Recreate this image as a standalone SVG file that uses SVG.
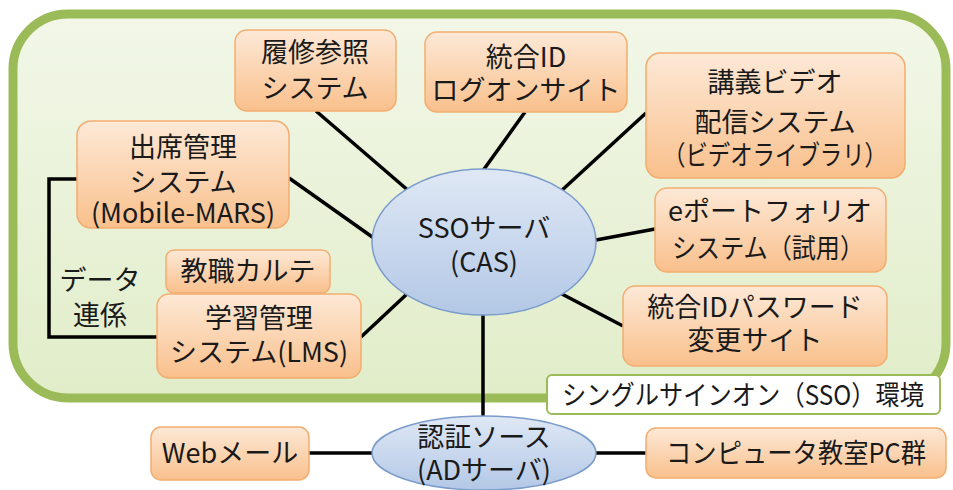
<svg xmlns="http://www.w3.org/2000/svg" width="953" height="490" viewBox="0 0 953 490">
<defs>
<linearGradient id="gBg" x1="0" y1="0" x2="0" y2="1"><stop offset="0" stop-color="#f2f7e8"/><stop offset="1" stop-color="#e1edc9"/></linearGradient>
<linearGradient id="gNode" x1="0" y1="0" x2="0" y2="1"><stop offset="0" stop-color="#fde9d7"/><stop offset="1" stop-color="#f9c08c"/></linearGradient>
<linearGradient id="gEll" x1="0" y1="0" x2="0" y2="1"><stop offset="0" stop-color="#dfe8f5"/><stop offset="1" stop-color="#b3c8e6"/></linearGradient>
</defs>
<style>
.node{fill:url(#gNode);stroke:#f2ad70;stroke-width:1.5}
.ell{fill:url(#gEll);stroke:#7b9ccb;stroke-width:1.5}
.c{stroke:#000;stroke-width:3.5;fill:none}
text{font-family:"Noto Sans CJK JP","Noto Sans",sans-serif;font-size:27px;fill:#1a1a1a;text-anchor:middle}
</style>
<rect x="13" y="14" width="933" height="384" rx="55" fill="url(#gBg)" stroke="#9bbb59" stroke-width="9"/>
<g id="connectors">
<line class="c" x1="316" y1="111" x2="410" y2="192"/>
<line class="c" x1="525" y1="112" x2="482" y2="172"/>
<line class="c" x1="646" y1="113" x2="560" y2="192"/>
<line class="c" x1="655" y1="229" x2="596" y2="240"/>
<line class="c" x1="560" y1="293" x2="623" y2="326"/>
<line class="c" x1="289" y1="178" x2="385" y2="246"/>
<line class="c" x1="361" y1="337" x2="408" y2="293"/>
<line class="c" x1="483" y1="312" x2="483" y2="418"/>
<line class="c" x1="309" y1="453" x2="374" y2="453"/>
<line class="c" x1="594" y1="453" x2="646" y2="453"/>
<polyline class="c" points="77,179 49,179 49,337 157,337"/>
</g>
<g id="sso-label"><rect x="547" y="375" width="393" height="39" rx="5" fill="#fff" stroke="#9bbb59" stroke-width="2"/><text x="743" y="405" font-size="25" textLength="362" lengthAdjust="spacingAndGlyphs">シングルサインオン（SSO）環境</text></g>
<g id="rishu"><rect class="node" x="235" y="30" width="161" height="81" rx="12"/><text x="315" y="62">履修参照<tspan x="315" y="98">システム</tspan></text></g>
<g id="logon"><rect class="node" x="425" y="32" width="202" height="80" rx="12"/><text x="526" y="67">統合ID<tspan x="526" y="100">ログオンサイト</tspan></text></g>
<g id="video"><rect class="node" x="646" y="53" width="259" height="125" rx="14"/><text x="775" y="92">講義ビデオ<tspan x="775" y="132">配信システム</tspan><tspan x="775" y="165" textLength="224" lengthAdjust="spacingAndGlyphs">（ビデオライブラリ）</tspan></text></g>
<g id="eport"><rect class="node" x="655" y="188" width="231" height="84" rx="12"/><text x="770" y="221">eポートフォリオ<tspan x="768" y="258" textLength="192" lengthAdjust="spacingAndGlyphs">システム（試用）</tspan></text></g>
<g id="passwd"><rect class="node" x="623" y="286" width="264" height="80" rx="12"/><text x="755" y="317">統合IDパスワード<tspan x="755" y="350">変更サイト</tspan></text></g>
<g id="shusseki"><rect class="node" x="77" y="121" width="212" height="107" rx="14"/><text x="183" y="157">出席管理<tspan x="183" y="192">システム</tspan><tspan x="183" y="223">(Mobile-MARS)</tspan></text></g>
<g id="karte"><rect class="node" x="166" y="250" width="164" height="43" rx="8"/><text x="248" y="281">教職カルテ</text></g>
<g id="lms"><rect class="node" x="157" y="294" width="204" height="84" rx="12"/><text x="259" y="328">学習管理<tspan x="259" y="362">システム(LMS)</tspan></text></g>
<g id="webmail"><rect class="node" x="151" y="427" width="158" height="53" rx="10"/><text x="230" y="463">Webメール</text></g>
<g id="pc"><rect class="node" x="646" y="428" width="300" height="50" rx="10"/><text x="796" y="463" textLength="260" lengthAdjust="spacingAndGlyphs">コンピュータ教室PC群</text></g>
<g id="sso"><ellipse class="ell" cx="484" cy="242" rx="112" ry="73"/><text x="484" y="238">SSOサーバ<tspan x="484" y="272">(CAS)</tspan></text></g>
<g id="ad"><ellipse class="ell" cx="484" cy="453" rx="112" ry="37"/><text x="484" y="447">認証ソース<tspan x="484" y="480">(ADサーバ)</tspan></text></g>
<g id="datalink"><text x="100" y="290">データ<tspan x="100" y="325">連係</tspan></text></g>
</svg>
